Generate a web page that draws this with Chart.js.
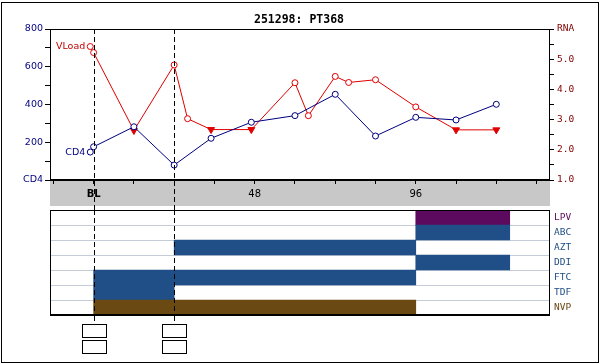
<!DOCTYPE html>
<html>
<head>
<meta charset="utf-8">
<script src="https://cdn.jsdelivr.net/npm/chart.js@4"></script>
<style>
  html,body{margin:0;padding:0;background:#fff;}
  #wrap{position:relative;width:600px;height:364px;}
  #wrap canvas{position:absolute;left:0;}
</style>
</head>
<body>
<div id="wrap">
  <canvas id="labs" width="600" height="364" style="top:0"></canvas>
  <canvas id="drugs" width="600" height="110" style="top:208px"></canvas>
</div>
<script>
// --- data (weeks from baseline) ---
const TITLE = "251298: PT368";
const CD4_WEEKS  = [-1, 0, 12, 24, 35, 47, 60, 72, 84, 96, 108, 120];
const CD4_VALUES = [148, 176, 282, 79, 221, 306, 341, 454, 233, 332, 318, 401];
const VL_WEEKS   = [-1, 0, 12, 24, 28, 35, 47, 60, 64, 72, 76, 84, 96, 108, 120];
const VL_VALUES  = [5.42, 5.22, 2.64, 4.81, 3.03, 2.67, 2.67, 4.22, 3.13, 4.43, 4.23, 4.32, 3.42, 2.66, 2.66];
const VL_BELOW   = [0, 0, 1, 0, 0, 1, 1, 0, 0, 0, 0, 0, 0, 1, 1];   // below detection limit
const X_TICKS    = [-12, 0, 12, 24, 36, 48, 60, 72, 84, 96, 108, 120, 132];
const X_LABELS   = {0:"BL", 48:"48", 96:"96"};
const EVENT_WEEKS = [0, 24];   // regimen changes (dashed markers)
const DRUGS      = ["LPV","ABC","AZT","DDI","FTC","TDF","NVP"];
const DRUG_START = [96, 96, 24, 96, 0, 0, 0];
const DRUG_END   = [124, 124, 96, 124, 96, 24, 96];

// --- styles ---
const NAVY = "#000080", MAROON = "#800000", RED = "#e00000";
const DRUG_COLOR = { LPV:"#5b0a5d", NVP:"#6a4913" };
const NRTI = "#204e86";
const X_MIN = -13, X_MAX = 136;
const sans = "'DejaVu Sans', Verdana, sans-serif";
const mono = "'DejaVu Sans Mono', 'Liberation Mono', monospace";

function dashV(ctx, x, y0, y1){
  ctx.save();
  ctx.strokeStyle = "#000"; ctx.lineWidth = 1; ctx.setLineDash([5,3]);
  ctx.beginPath(); ctx.moveTo(Math.round(x)+0.5, y0); ctx.lineTo(Math.round(x)+0.5, y1); ctx.stroke();
  ctx.restore();
}
// fixed axis thickness, no label overhang padding
const fixW = w => s => { s.width = w; s.paddingTop = 0; s.paddingBottom = 0; };

const labsDecor = {
  id:"labsDecor",
  beforeDraw(chart){
    const {ctx, chartArea:a} = chart;
    ctx.save();
    ctx.fillStyle = "#fff"; ctx.fillRect(0,0,chart.width,chart.height);
    ctx.fillStyle = "#c8c8c8"; ctx.fillRect(a.left, a.bottom, a.right-a.left, 26);
    ctx.restore();
  },
  afterDraw(chart){
    const {ctx, chartArea:a, scales} = chart;
    ctx.save();
    // outer frame
    ctx.strokeStyle = "#000"; ctx.lineWidth = 1;
    ctx.strokeRect(1.5, 2.5, 597, 360);
    // plot frame
    ctx.strokeRect(a.left+0.5, a.top+0.5, a.right-a.left-1, a.bottom-a.top);
    ctx.lineWidth = 2;
    ctx.beginPath(); ctx.moveTo(a.left, a.bottom); ctx.lineTo(a.right, a.bottom); ctx.stroke();
    // title
    ctx.fillStyle = "#000"; ctx.font = "bold 11.5px "+mono;
    ctx.textAlign = "center"; ctx.textBaseline = "middle";
    ctx.fillText(TITLE, 299, 20);
    // series names beside first points
    ctx.font = "9.5px "+sans; ctx.textAlign = "right";
    const c0 = chart.getDatasetMeta(0).data[0], v0 = chart.getDatasetMeta(1).data[0];
    ctx.fillStyle = NAVY;  ctx.fillText("CD4", c0.x-5, c0.y);
    ctx.fillStyle = "#c00000"; ctx.fillText("VLoad", v0.x-5, v0.y);
    // event markers + boxes
    EVENT_WEEKS.forEach(w=>{
      const x = scales.x.getPixelForValue(w);
      dashV(ctx, x, a.top, 210);
      dashV(ctx, x, 316, 324);
      ctx.lineWidth = 1; ctx.strokeStyle = "#000";
      const xl = Math.round(x) - 12 + 0.5;
      ctx.strokeRect(xl, 324.5, 24, 13);
      ctx.strokeRect(xl, 340.5, 24, 13);
    });
    ctx.restore();
  }
};

new Chart(document.getElementById("labs"), {
  type:"line",
  data:{
    datasets:[
      { label:"CD4", yAxisID:"y",
        data: CD4_WEEKS.map((w,i)=>({x:w, y:CD4_VALUES[i]})),
        borderColor:NAVY, borderWidth:1, pointStyle:"circle", pointRadius:3,
        pointBorderColor:NAVY, pointBackgroundColor:"#fff", pointBorderWidth:1 },
      { label:"VLoad", yAxisID:"y1",
        data: VL_WEEKS.map((w,i)=>({x:w, y:VL_VALUES[i]})),
        borderColor:RED, borderWidth:1,
        pointStyle: c => VL_BELOW[c.dataIndex] ? "triangle" : "circle",
        pointRotation: c => VL_BELOW[c.dataIndex] ? 180 : 0,
        pointRadius: c => VL_BELOW[c.dataIndex] ? 4 : 3,
        pointBorderColor:RED,
        pointBackgroundColor: c => VL_BELOW[c.dataIndex] ? RED : "#fff",
        pointBorderWidth:1 }
    ]
  },
  options:{
    responsive:false, animation:false, events:[],
    layout:{ autoPadding:false, padding:{ top:29, left:0, right:0, bottom:0 } },
    plugins:{ legend:{display:false}, tooltip:{enabled:false} },
    scales:{
      x:{ type:"linear", min:X_MIN, max:X_MAX,
        afterBuildTicks: s => { s.ticks = X_TICKS.map(v=>({value:v})); },
        afterFit: s => { s.height = 184; s.paddingLeft = 0; s.paddingRight = 0; },
        grid:{ drawOnChartArea:false, tickLength:4, color:"#000" },
        border:{ display:false },
        ticks:{ autoSkip:false, maxRotation:0, padding:4, color:"#000",
          font: c => (c.tick && c.tick.value===0) ? {family:sans, size:10, weight:"bold"} : {family:sans, size:10},
          callback: v => X_LABELS[v] || "" } },
      y:{ position:"left", min:0, max:800,
        afterFit: fixW(50),
        grid:{ drawOnChartArea:false, tickLength:5, color:"#000" },
        border:{ display:false },
        ticks:{ stepSize:100, autoSkip:false, padding:2, color:NAVY, font:{family:sans, size:9.5},
          callback: v => v%200 ? "" : (v===0 ? "CD4" : String(v)) } },
      y1:{ position:"right", min:1, max:6,
        afterFit: fixW(50),
        grid:{ drawOnChartArea:false, tickLength:4, color:"#000" },
        border:{ display:false },
        ticks:{ stepSize:0.5, autoSkip:false, padding:3, color:MAROON, font:{family:mono, size:9.5},
          callback: v => v%1 ? "" : (v===6 ? "RNA" : v.toFixed(1)) } }
    }
  },
  plugins:[labsDecor]
});

const drugDecor = {
  id:"drugDecor",
  afterDraw(chart){
    const {ctx, chartArea:a, scales} = chart;
    EVENT_WEEKS.forEach(w=>{
      const x = scales.x.getPixelForValue(w);
      dashV(ctx, x, a.top, a.bottom);
    });
    ctx.save();
    ctx.strokeStyle = "#000"; ctx.lineWidth = 1;
    ctx.strokeRect(a.left+0.5, a.top+0.5, a.right-a.left-1, a.bottom-a.top);
    ctx.lineWidth = 2;
    ctx.beginPath(); ctx.moveTo(a.left, a.bottom); ctx.lineTo(a.right, a.bottom); ctx.stroke();
    ctx.restore();
  }
};

new Chart(document.getElementById("drugs"), {
  type:"bar",
  data:{
    labels: DRUGS,
    datasets:[{
      data: DRUGS.map((d,i)=>[DRUG_START[i], DRUG_END[i]]),
      backgroundColor: DRUGS.map(d => DRUG_COLOR[d] || NRTI),
      borderWidth:0, barPercentage:1, categoryPercentage:1
    }]
  },
  options:{
    indexAxis:"y", responsive:false, animation:false, events:[],
    layout:{ autoPadding:false, padding:{ top:2, left:50, right:0, bottom:3 } },
    plugins:{ legend:{display:false}, tooltip:{enabled:false} },
    scales:{
      x:{ type:"linear", min:X_MIN, max:X_MAX, display:false },
      y:{ position:"right", z:1,
        afterFit: fixW(50),
        grid:{ offset:true, color:"#c4ccd8", drawTicks:false },
        border:{ display:false },
        ticks:{ padding:4, autoSkip:false, font:{family:mono, size:9.5},
          color: c => DRUG_COLOR[DRUGS[c.index]] || NRTI } }
    }
  },
  plugins:[drugDecor]
});
</script>
</body>
</html>
